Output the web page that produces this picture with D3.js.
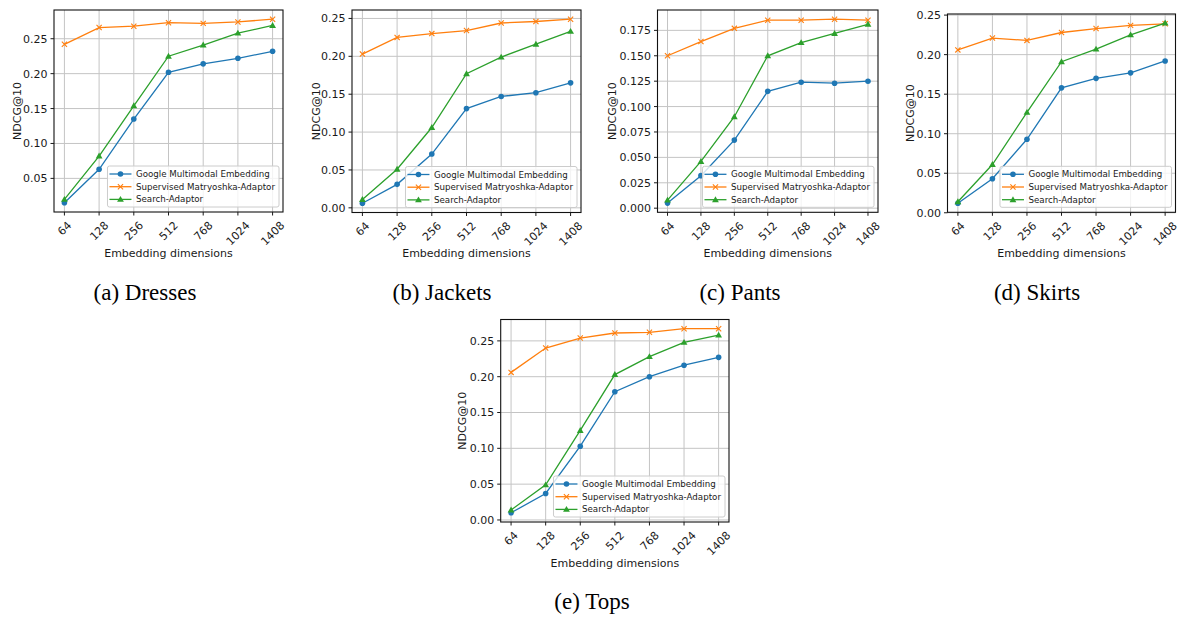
<!DOCTYPE html>
<html>
<head>
<meta charset="utf-8">
<script src="https://cdn.jsdelivr.net/npm/d3@7"></script>
<style>
  body { margin: 0; background: #fff; }
  svg { display: block; }
</style>
</head>
<body>
<svg id="chart" width="1182" height="619"></svg>
<script>
// categories and series names
const dims = ['64', '128', '256', '512', '768', '1024', '1408'];
const seriesNames = ['Google Multimodal Embedding', 'Supervised Matryoshka-Adaptor', 'Search-Adaptor'];

// NDCG@10 values
const dressesGoogle     = [0.015, 0.063, 0.135, 0.202, 0.214, 0.222, 0.232];
const dressesMatryoshka = [0.242, 0.266, 0.268, 0.273, 0.272, 0.274, 0.278];
const dressesSearch     = [0.020, 0.082, 0.154, 0.225, 0.241, 0.258, 0.269];

const jacketsGoogle     = [0.006, 0.031, 0.071, 0.131, 0.147, 0.152, 0.165];
const jacketsMatryoshka = [0.203, 0.225, 0.230, 0.234, 0.244, 0.246, 0.249];
const jacketsSearch     = [0.011, 0.051, 0.106, 0.177, 0.199, 0.216, 0.233];

const pantsGoogle     = [0.005, 0.032, 0.067, 0.115, 0.124, 0.123, 0.125];
const pantsMatryoshka = [0.150, 0.164, 0.177, 0.185, 0.185, 0.186, 0.185];
const pantsSearch     = [0.008, 0.046, 0.090, 0.150, 0.163, 0.172, 0.181];

const skirtsGoogle     = [0.012, 0.043, 0.093, 0.158, 0.170, 0.177, 0.192];
const skirtsMatryoshka = [0.206, 0.221, 0.218, 0.228, 0.233, 0.237, 0.239];
const skirtsSearch     = [0.014, 0.061, 0.127, 0.191, 0.207, 0.225, 0.240];

const topsGoogle     = [0.010, 0.037, 0.103, 0.179, 0.200, 0.216, 0.227];
const topsMatryoshka = [0.206, 0.240, 0.254, 0.261, 0.262, 0.267, 0.267];
const topsSearch     = [0.014, 0.049, 0.125, 0.203, 0.228, 0.248, 0.258];

// y tick labels per panel
const ticksDresses = [0.05, 0.10, 0.15, 0.20, 0.25];
const ticksJackets = [0.00, 0.05, 0.10, 0.15, 0.20, 0.25];
const ticksPants   = [0.000, 0.025, 0.050, 0.075, 0.100, 0.125, 0.150, 0.175];
const ticksSkirts  = [0.00, 0.05, 0.10, 0.15, 0.20, 0.25];
const ticksTops    = [0.00, 0.05, 0.10, 0.15, 0.20, 0.25];

const colors = ['#1f77b4', '#ff7f0e', '#2ca02c'];
const markers = ['circle', 'x', 'triangle'];
const axisFont = 'DejaVu Sans, sans-serif';
const captionFont = 'Liberation Serif, Times New Roman, serif';

const svg = d3.select('#chart');

const panels = [
    { box: [54, 10, 283, 212],   series: [dressesGoogle, dressesMatryoshka, dressesSearch], ticks: ticksDresses, fmt: '.2f', ylabelX: 17,  caption: '(a) Dresses', capX: 145, capY: 300 },
    { box: [352, 10, 581, 212.5], series: [jacketsGoogle, jacketsMatryoshka, jacketsSearch], ticks: ticksJackets, fmt: '.2f', ylabelX: 316, caption: '(b) Jackets', capX: 442, capY: 300 },
    { box: [657.5, 10, 878, 212.3], series: [pantsGoogle, pantsMatryoshka, pantsSearch], ticks: ticksPants, fmt: '.3f', ylabelX: 612, caption: '(c) Pants', capX: 740, capY: 300 },
    { box: [947.5, 14, 1175.5, 212.3], series: [skirtsGoogle, skirtsMatryoshka, skirtsSearch], ticks: ticksSkirts, fmt: '.2f', ylabelX: 910, caption: '(d) Skirts', capX: 1037, capY: 300 },
    { box: [500.7, 319.5, 729, 522], series: [topsGoogle, topsMatryoshka, topsSearch], ticks: ticksTops, fmt: '.2f', ylabelX: 462, caption: '(e) Tops', capX: 592, capY: 609 }
];

function drawMarker(g, type, x, y, color) {
    if (type === 'circle') {
        g.append('circle').attr('cx', x).attr('cy', y).attr('r', 2.8).attr('fill', color);
    } else if (type === 'x') {
        const s = 2.6;
        g.append('path')
            .attr('d', `M${x - s},${y - s}L${x + s},${y + s}M${x - s},${y + s}L${x + s},${y - s}`)
            .attr('stroke', color).attr('stroke-width', 1.1).attr('fill', 'none');
    } else {
        g.append('path')
            .attr('d', d3.symbol(d3.symbolTriangle, 20)())
            .attr('transform', `translate(${x},${y + 0.5})`)
            .attr('fill', color);
    }
}

function drawPanel(p) {
    const [x0, y0, x1, y1] = p.box;
    const g = svg.append('g');

    const x = d3.scalePoint().domain(dims).range([x0, x1]).padding(0.3);

    // matplotlib style auto limits: data range plus 5% margin
    const all = p.series.flat();
    const lo = d3.min(all), hi = d3.max(all);
    const m = (hi - lo) * 0.05;
    const y = d3.scaleLinear().domain([lo - m, hi + m]).range([y1, y0]);

    // grid
    g.selectAll('.gx').data(dims).enter().append('line')
        .attr('x1', d => x(d)).attr('x2', d => x(d))
        .attr('y1', y0).attr('y2', y1)
        .attr('stroke', '#c4c4c4').attr('stroke-width', 1);
    g.selectAll('.gy').data(p.ticks).enter().append('line')
        .attr('x1', x0).attr('x2', x1)
        .attr('y1', d => y(d)).attr('y2', d => y(d))
        .attr('stroke', '#c4c4c4').attr('stroke-width', 1);

    // lines and markers
    p.series.forEach((vals, i) => {
        const line = d3.line().x((d, j) => x(dims[j])).y(d => y(d));
        g.append('path')
            .datum(vals)
            .attr('d', line)
            .attr('fill', 'none')
            .attr('stroke', colors[i])
            .attr('stroke-width', 1.3);
        vals.forEach((v, j) => drawMarker(g, markers[i], x(dims[j]), y(v), colors[i]));
    });

    // spines
    g.append('rect')
        .attr('x', x0).attr('y', y0)
        .attr('width', x1 - x0).attr('height', y1 - y0)
        .attr('fill', 'none').attr('stroke', '#111').attr('stroke-width', 1.1);

    // y ticks
    const fmt = d3.format(p.fmt);
    p.ticks.forEach(t => {
        g.append('line')
            .attr('x1', x0 - 3.5).attr('x2', x0)
            .attr('y1', y(t)).attr('y2', y(t))
            .attr('stroke', '#1a1a1a').attr('stroke-width', 1);
        g.append('text')
            .attr('x', x0 - 6.5).attr('y', y(t))
            .attr('dy', '0.36em')
            .attr('text-anchor', 'end')
            .style('font-family', axisFont)
            .style('font-size', '11px')
            .style('fill', '#1a1a1a')
            .text(fmt(t));
    });

    // x ticks, rotated 45 and centred under the tick
    dims.forEach(d => {
        const tx = x(d);
        g.append('line')
            .attr('x1', tx).attr('x2', tx)
            .attr('y1', y1).attr('y2', y1 + 3.5)
            .attr('stroke', '#1a1a1a').attr('stroke-width', 1);
        const t = g.append('text')
            .attr('text-anchor', 'middle')
            .attr('dy', '0.35em')
            .style('font-family', axisFont)
            .style('font-size', '11px')
            .style('fill', '#1a1a1a')
            .text(d);
        const w = t.node().getComputedTextLength();
        const h = (w + 12.5) / Math.SQRT2;
        t.attr('transform', `translate(${tx},${y1 + 7 + h / 2}) rotate(-45)`);
    });

    // axis labels
    g.append('text')
        .attr('x', (x0 + x1) / 2).attr('y', y1 + 41)
        .attr('dy', '0.35em')
        .attr('text-anchor', 'middle')
        .style('font-family', axisFont)
        .style('font-size', '11px')
        .style('fill', '#1a1a1a')
        .text('Embedding dimensions');
    g.append('text')
        .attr('transform', `translate(${p.ylabelX},${(y0 + y1) / 2}) rotate(-90)`)
        .attr('dy', '0.35em')
        .attr('text-anchor', 'middle')
        .style('font-family', axisFont)
        .style('font-size', '11px')
        .style('fill', '#1a1a1a')
        .text('NDCG@10');

    // legend, lower right
    const lg = g.append('g');
    const box = lg.append('rect');
    const texts = seriesNames.map((name, i) => lg.append('text')
        .style('font-family', axisFont)
        .style('font-size', '8.7px')
        .style('fill', '#1a1a1a')
        .attr('dy', '0.35em')
        .text(name));
    const maxW = d3.max(texts, t => t.node().getComputedTextLength());
    const bw = 28.5 + maxW + 4;
    const bx = x1 - 4 - bw;
    const by = y1 - 46;
    box.attr('x', bx).attr('y', by)
        .attr('width', bw).attr('height', 41)
        .attr('rx', 2)
        .attr('fill', 'rgba(255,255,255,0.8)')
        .attr('stroke', '#cccccc').attr('stroke-width', 1);
    seriesNames.forEach((name, i) => {
        const ry = by + 8 + i * 12.7;
        lg.append('line')
            .attr('x1', bx + 2).attr('x2', bx + 24)
            .attr('y1', ry).attr('y2', ry)
            .attr('stroke', colors[i]).attr('stroke-width', 1.3);
        drawMarker(lg, markers[i], bx + 13, ry, colors[i]);
        texts[i].attr('x', bx + 28.5).attr('y', ry);
    });

    // caption
    svg.append('text')
        .attr('x', p.capX).attr('y', p.capY)
        .attr('text-anchor', 'middle')
        .style('font-family', captionFont)
        .style('font-size', '23px')
        .style('fill', '#000')
        .text(p.caption);
}

panels.forEach(drawPanel);
</script>
</body>
</html>
